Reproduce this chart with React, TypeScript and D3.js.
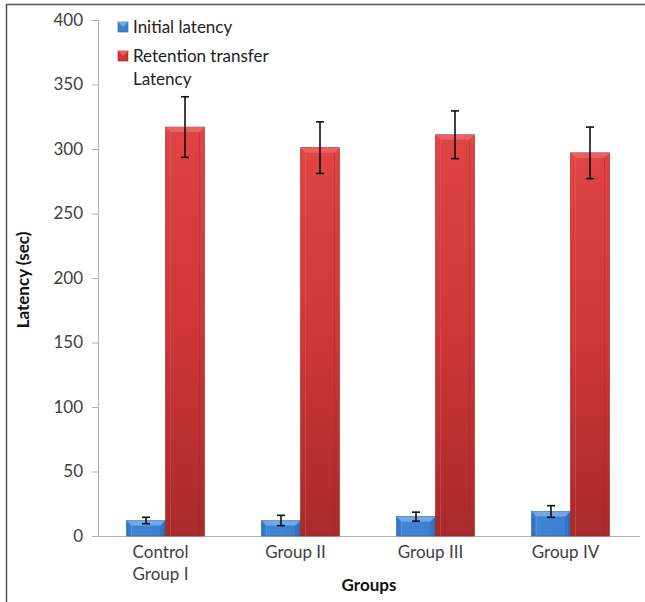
import React from "react";
import * as d3 from "d3";

const categories = ["Control\nGroup I", "Group II", "Group III", "Group IV"];
const initialLatency = [12, 12, 15, 19];
const initialErr = [2.5, 4, 3.5, 4.5];
const retentionLatency = [317, 301, 311, 297];
const retentionErr = [23.5, 20, 18.5, 20];
const yTicks = [0, 50, 100, 150, 200, 250, 300, 350, 400];
const seriesNames = ["Initial latency", "Retention transfer\nLatency"];

const W = 645;
const H = 602;
const FONT = "Lato, 'Open Sans', sans-serif";

export default function App() {
  const x = d3.scaleBand<string>().domain(categories).range([98, 638]).paddingInner(0).paddingOuter(0);
  const sub = d3.scaleBand<number>().domain([0, 1]).range([0, 78]);
  const y = d3.scaleLinear().domain([0, 400]).range([536, 20]);
  const offset = (x.bandwidth() - 78) / 2;

  const series = [
    { vals: initialLatency, errs: initialErr, grad: "gBlue", top: "#7fb2ec", edge: "#2a5f9e" },
    { vals: retentionLatency, errs: retentionErr, grad: "gRed", top: "#ec6a6a", edge: "#9a2222" },
  ];

  return (
    <svg width={W} height={H} style={{ position: "absolute", left: 0, top: 0 }}>
      <defs>
        <linearGradient id="gBlue" x1="0" y1="0" x2="1" y2="0">
          <stop offset="0" stopColor="#2f6fbf" />
          <stop offset="0.15" stopColor="#3f86d6" />
          <stop offset="0.85" stopColor="#3a80d0" />
          <stop offset="1" stopColor="#2c65ad" />
        </linearGradient>
        <linearGradient id="gRed" x1="0" y1="0" x2="0" y2="1">
          <stop offset="0" stopColor="#e04444" />
          <stop offset="0.5" stopColor="#cf3636" />
          <stop offset="1" stopColor="#a82a2a" />
        </linearGradient>
      </defs>
      <rect x={0} y={0} width={W} height={H} fill="#fff" />
      <line x1={6.5} y1={4} x2={6.5} y2={H} stroke="#555" strokeWidth={1.5} />
      <line x1={6} y1={4.5} x2={W} y2={4.5} stroke="#555" strokeWidth={1.5} />

      {/* y axis */}
      <line x1={98.5} y1={y(400)} x2={98.5} y2={y(0)} stroke="#b0b0b0" />
      {yTicks.map((t) => (
        <g key={t}>
          <line x1={92} x2={98.5} y1={y(t) + 0.5} y2={y(t) + 0.5} stroke="#b0b0b0" />
          <text x={83} y={y(t)} dy="0.35em" textAnchor="end" fontSize={17} fill="#404040" fontFamily={FONT}>
            {t}
          </text>
        </g>
      ))}
      {/* x axis */}
      <line x1={98} x2={640} y1={y(0) + 0.5} y2={y(0) + 0.5} stroke="#b0b0b0" />

      {/* bars */}
      {categories.map((c, i) => (
        <g key={c}>
          {series.map((s, k) => {
            const bx = (x(c) as number) + offset + (sub(k) as number);
            const bw = sub.bandwidth();
            const by = y(s.vals[i]);
            const bh = y(0) - by;
            const bev = Math.min(5, bh / 3);
            const cx = bx + bw / 2;
            return (
              <g key={k}>
                <rect x={bx} y={by} width={bw} height={bh} fill={`url(#${s.grad})`} stroke={s.edge} strokeWidth={0.6} />
                <polygon
                  points={`${bx},${by} ${bx + bw},${by} ${bx + bw - bev},${by + bev} ${bx + bev},${by + bev}`}
                  fill={s.top}
                  opacity={0.8}
                />
                <line x1={bx + bev} x2={bx + bev} y1={by + bev} y2={y(0)} stroke={s.top} strokeOpacity={0.35} />
                <line x1={bx + bw - bev} x2={bx + bw - bev} y1={by + bev} y2={y(0)} stroke={s.edge} strokeOpacity={0.35} />
                <line x1={cx} x2={cx} y1={y(s.vals[i] + s.errs[i])} y2={y(s.vals[i] - s.errs[i])} stroke="#111" strokeWidth={1.6} />
                <line x1={cx - 4} x2={cx + 4} y1={y(s.vals[i] + s.errs[i])} y2={y(s.vals[i] + s.errs[i])} stroke="#111" strokeWidth={1.6} />
                <line x1={cx - 4} x2={cx + 4} y1={y(s.vals[i] - s.errs[i])} y2={y(s.vals[i] - s.errs[i])} stroke="#111" strokeWidth={1.6} />
              </g>
            );
          })}
          {c.split("\n").map((ln, j) => (
            <text
              key={j}
              x={(x(c) as number) + x.bandwidth() / 2 - 5}
              y={558 + j * 22}
              textAnchor="middle"
              fontSize={17}
              fill="#404040"
              fontFamily={FONT}
            >
              {ln}
            </text>
          ))}
        </g>
      ))}

      {/* legend */}
      {seriesNames.map((n, k) => (
        <g key={k}>
          <rect x={118} y={22 + k * 29} width={10} height={10} fill={k === 0 ? "#3a80d0" : "#cf3636"} stroke={k === 0 ? "#2a5f9e" : "#9a2222"} strokeWidth={0.6} />
          <polygon
            points={`${118},${22 + k * 29} ${128},${22 + k * 29} ${123},${27 + k * 29}`}
            fill={k === 0 ? "#7fb2ec" : "#ec6a6a"}
            opacity={0.8}
          />
          {n.split("\n").map((ln, j) => (
            <text key={j} x={133} y={27 + k * 29 + j * 23} dy="0.35em" fontSize={17} fill="#222" fontFamily={FONT}>
              {ln}
            </text>
          ))}
        </g>
      ))}

      {/* axis titles */}
      <text
        transform={`translate(29, 280) rotate(-90)`}
        textAnchor="middle"
        fontSize={17}
        fontWeight="bold"
        fill="#111"
        fontFamily={FONT}
      >
        Latency (sec)
      </text>
      <text x={369} y={591} textAnchor="middle" fontSize={17} fontWeight="bold" fill="#111" fontFamily={FONT}>
        Groups
      </text>
    </svg>
  );
}
